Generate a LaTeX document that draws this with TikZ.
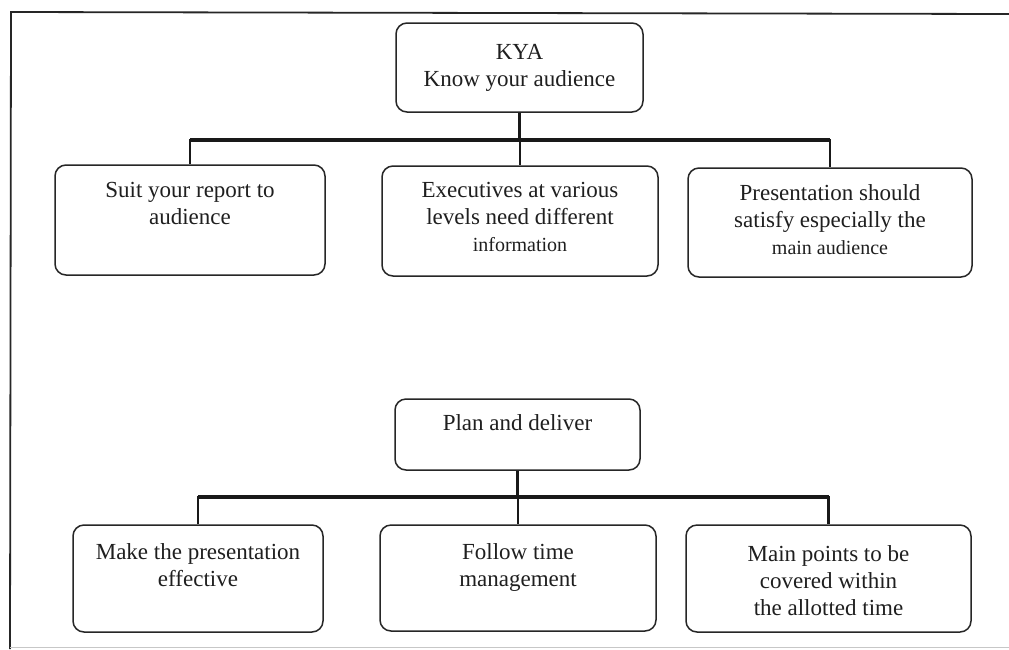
\documentclass[tikz,border=0pt]{standalone}
\usepackage{fontspec}
\setmainfont{Liberation Serif}
\begin{document}
\begin{tikzpicture}[x=1pt,y=-1pt,
  box/.style={draw=black!85, line width=1.5pt, rounded corners=11pt, inner sep=0pt},
  txt/.style={anchor=north, inner sep=0pt, align=center, text=black!88, font=\fontsize{23}{27}\selectfont},
  conn/.style={line width=2.6pt, draw=black!90},
  barline/.style={line width=3.6pt, draw=black!90}]
\useasboundingbox (0,0) rectangle (1009,649);
\fill[white] (0,0) rectangle (1009,649);
% frame
\draw[line width=1.8pt, black!85] (1009,14) -- (11,12) -- (10,649);
\draw[line width=1pt, black!22] (10,647) -- (1009,647);

% upper tree
\node[box, minimum width=247pt, minimum height=89pt] (kya) at (519.5,67.5) {};
\node[txt] (kyat) at (519.5,44) {KYA\\Know your audience};
\node[box, minimum width=270pt, minimum height=110pt] (s1) at (190,220) {};
\node[txt] (s1t) at (190,182) {Suit your report to\\audience};
\node[box, minimum width=276pt, minimum height=110pt] (s2) at (520,221) {};
\node[txt] (s2t) at (520,182) {Executives at various\\levels need different\\{\fontsize{20}{27}\selectfont information}};
\node[box, minimum width=284pt, minimum height=109pt] (s3) at (830,222.5) {};
\node[txt] (s3t) at (830,184) {Presentation should\\satisfy especially the\\{\fontsize{20}{27}\selectfont main audience}};

\coordinate (bar1) at (0,140);
\draw[conn] (kya.south) -- (kya.south |- bar1);
\draw[conn] (s1.north) -- (s1.north |- bar1) -- (s3.north |- bar1) -- (s3.north);
\draw[barline] (s1.north |- bar1) -- (s3.north |- bar1);
\draw[conn] (s2.north |- bar1) -- (s2.north);

% lower tree
\node[box, minimum width=245pt, minimum height=71pt] (plan) at (517.5,434.5) {};
\node[txt] (plant) at (517.5,414) {Plan and deliver};
\node[box, minimum width=250pt, minimum height=107pt] (b1) at (198,578.5) {};
\node[txt] (b1t) at (198,543) {Make the presentation\\effective};
\node[box, minimum width=276pt, minimum height=106pt] (b2) at (518,578) {};
\node[txt] (b2t) at (518,543) {Follow time\\management};
\node[box, minimum width=285pt, minimum height=107pt] (b3) at (828.5,578.5) {};
\node[txt] (b3t) at (828.5,545) {Main points to be\\covered within\\the allotted time};

\coordinate (bar2) at (0,497);
\draw[conn] (plan.south) -- (plan.south |- bar2);
\draw[conn] (b1.north) -- (b1.north |- bar2) -- (b3.north |- bar2) -- (b3.north);
\draw[barline] (b1.north |- bar2) -- (b3.north |- bar2);
\draw[conn] (b2.north |- bar2) -- (b2.north);
\end{tikzpicture}
\end{document}
